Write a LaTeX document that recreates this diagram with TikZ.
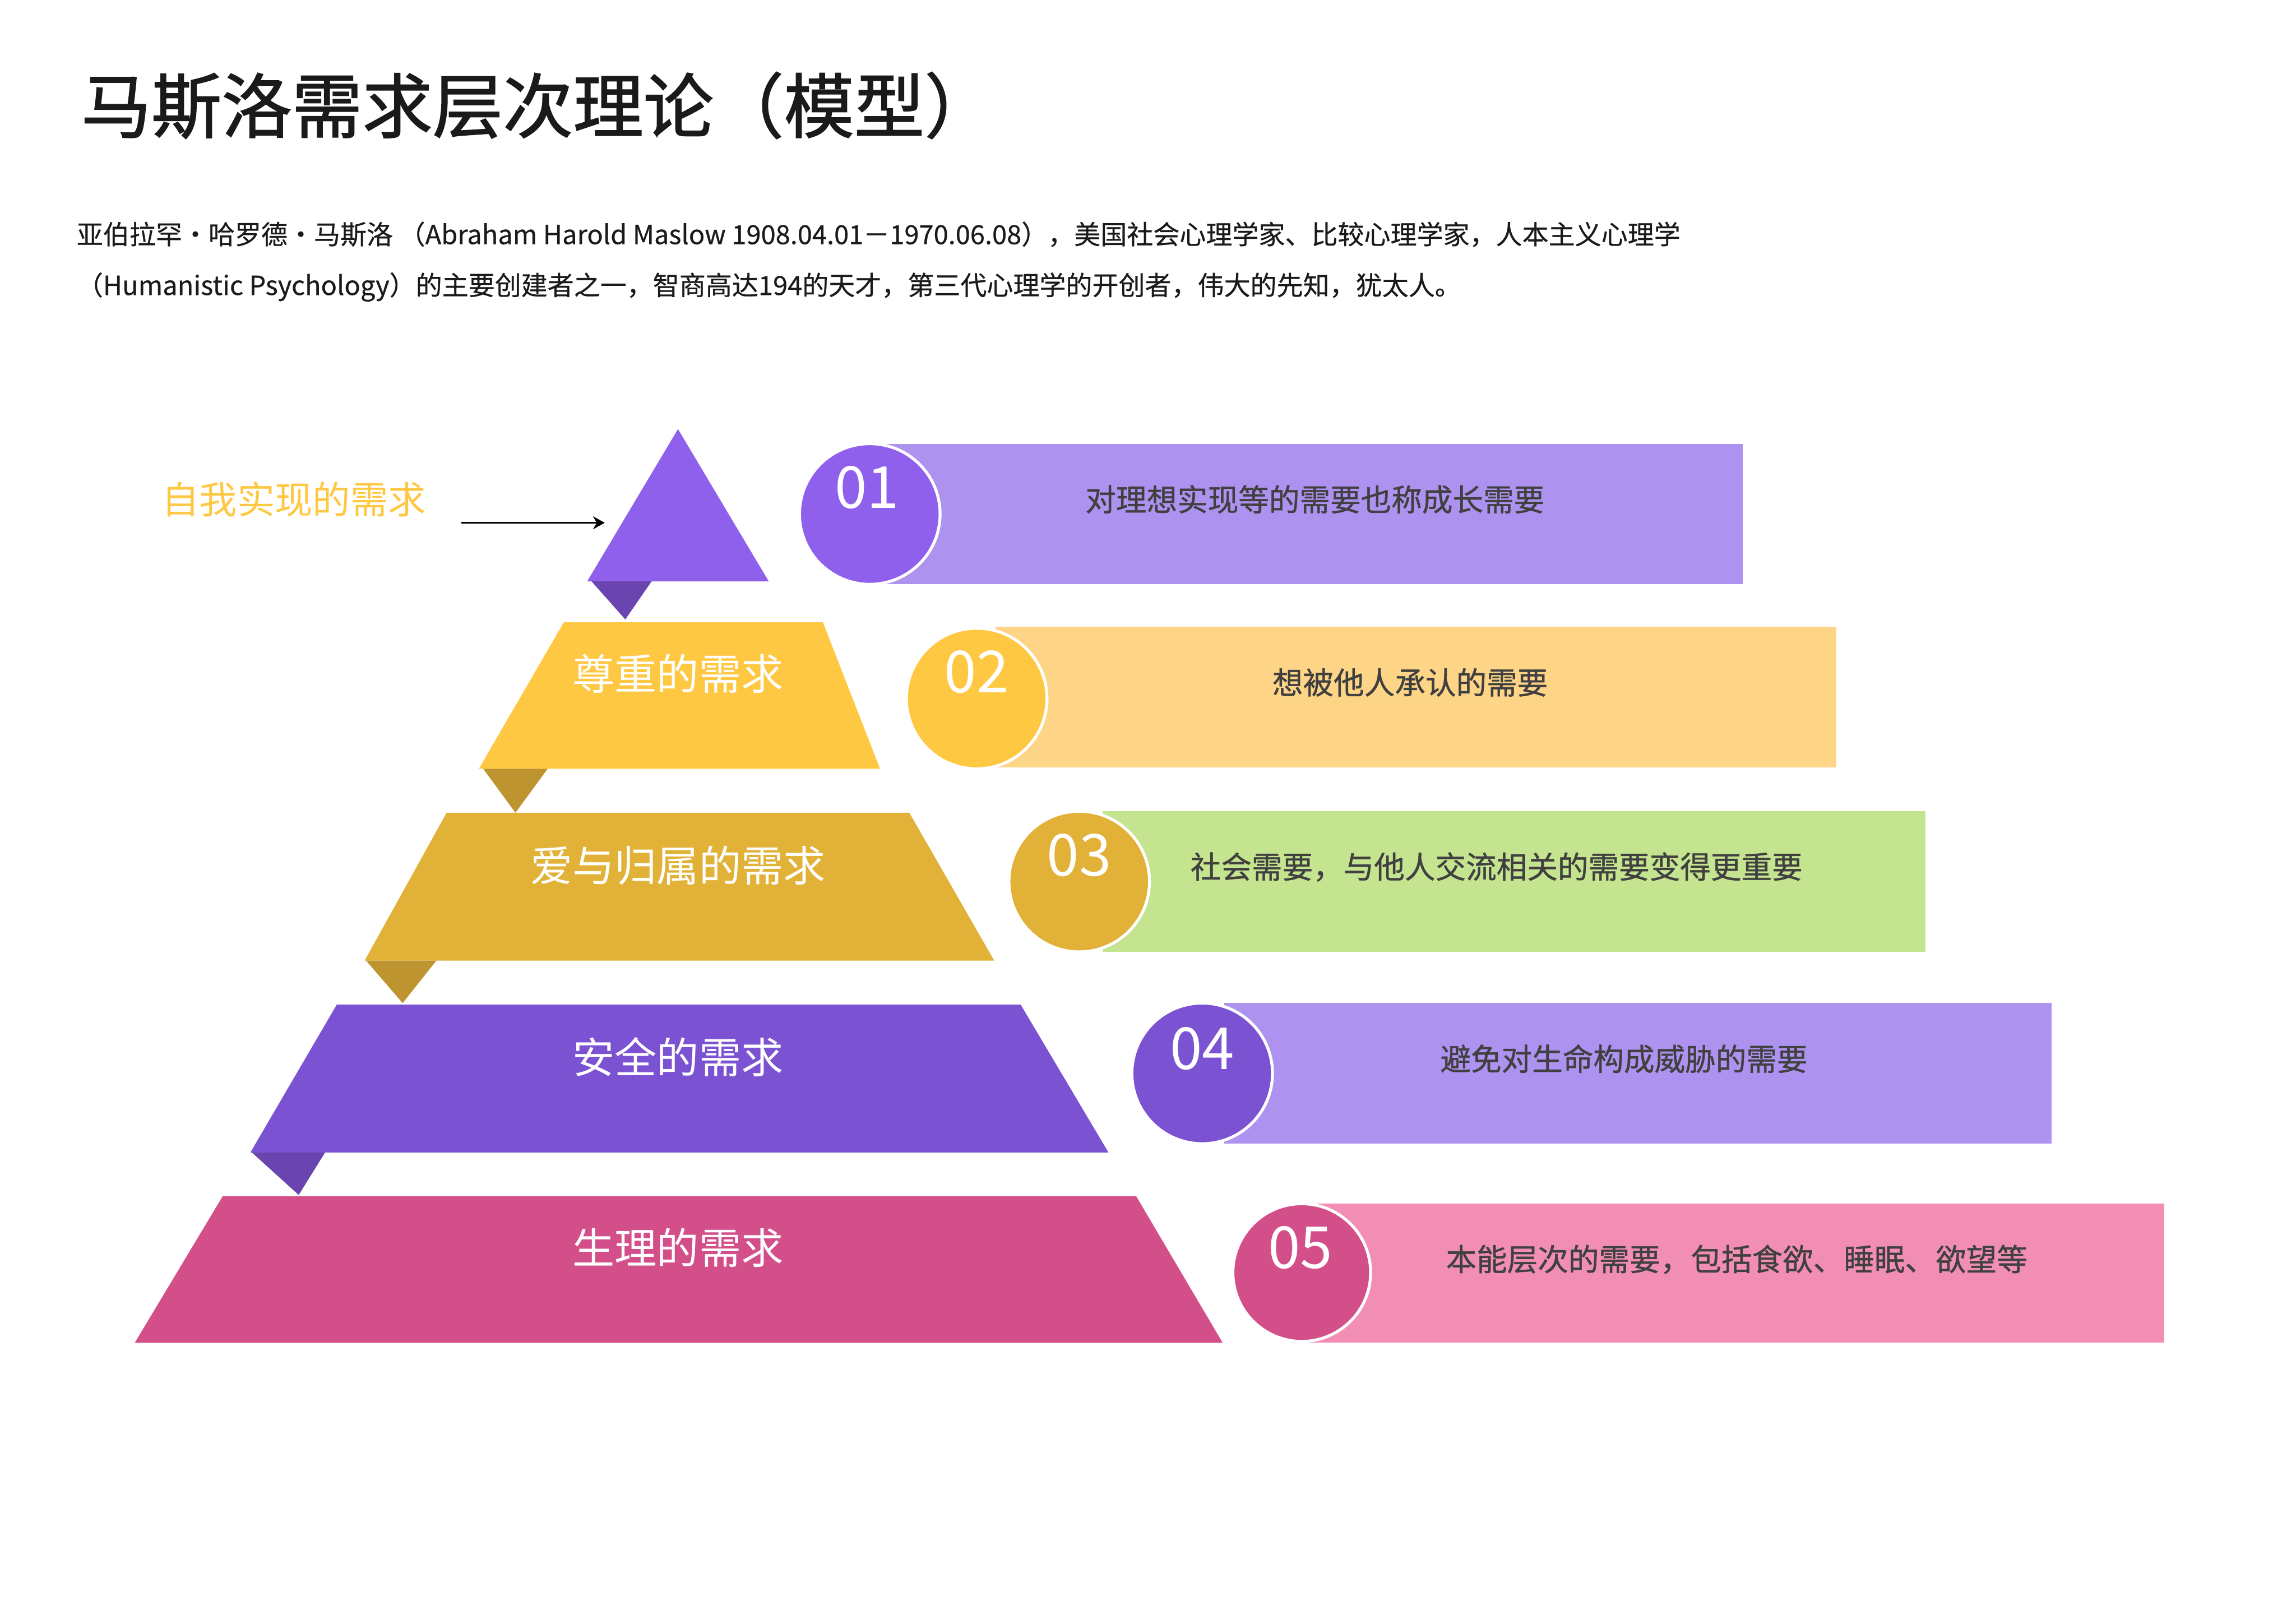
\documentclass[tikz,border=0pt]{standalone}
\usepackage{fontspec}
\setmainfont{Noto Sans CJK SC}
\newfontfamily\titlefont[FakeBold=1.4]{Noto Sans CJK SC}
\newfontfamily\medfont[FakeBold=0.9]{Noto Sans CJK SC}
\newfontfamily\parafont[FakeBold=0.5]{Noto Sans CJK SC}
\usetikzlibrary{arrows.meta}
\definecolor{pTop}{HTML}{8F60EC}
\definecolor{pLight}{HTML}{AD92EF}
\definecolor{pDark}{HTML}{6A45B0}
\definecolor{yTier}{HTML}{FFC843}
\definecolor{yLight}{HTML}{FED587}
\definecolor{gTier}{HTML}{E1B237}
\definecolor{gFold}{HTML}{BD9430}
\definecolor{greenL}{HTML}{C5E48F}
\definecolor{pFour}{HTML}{7B53D2}
\definecolor{pinkT}{HTML}{D34F89}
\definecolor{pinkL}{HTML}{F28EB4}
\definecolor{txtgray}{HTML}{404040}
\definecolor{txtblack}{HTML}{1A1A1A}
\tikzset{
  tiertext/.style={text=white, inner sep=0, font=\fontsize{14.4pt}{16pt}\selectfont},
  bantext/.style={text=txtgray, inner sep=0, font=\medfont\fontsize{10.45pt}{12pt}\selectfont},
  numtext/.style={text=white, inner sep=0, font=\fontsize{19.8pt}{22pt}\selectfont},
  paratext/.style={text=txtblack, inner sep=0, anchor=west, font=\parafont\fontsize{9pt}{11pt}\selectfont},
  ring/.style={draw=white, line width=1pt},
}
\begin{document}
\begin{tikzpicture}[x=0.5pt,y=-0.5pt]
\useasboundingbox[fill=white] (0,0) rectangle (1568,1108.7);

% title and paragraph
\node[anchor=west, inner sep=0, text=txtblack, font=\titlefont\fontsize{24pt}{27pt}\selectfont] (title) at (55,72) {马斯洛需求层次理论（模型）};
\node[paratext] (para1) at (52,160) {亚伯拉罕・哈罗德・马斯洛 （Abraham Harold Maslow 1908.04.01－1970.06.08），美国社会心理学家、比较心理学家，人本主义心理学};
\node[paratext] (para2) at (52,196) {（Humanistic Psychology）的主要创建者之一，智商高达194的天才，第三代心理学的开创者，伟大的先知，犹太人。};

% left label and arrow
\node[anchor=west, inner sep=0, text=yTier, font=\fontsize{12.9pt}{14pt}\selectfont] (selflabel) at (110,341) {自我实现的需求};
\coordinate (arrS) at (315,357);
\coordinate (arrE) at (413,357);
\draw[line width=0.6pt, -{Stealth[length=4pt,width=4.4pt]}] (arrS) -- (arrE);

% banners (behind circles)
\fill[pLight] (600,303) rectangle (1190,399);
\fill[yLight] (680,428) rectangle (1254,524);
\fill[greenL] (753,554) rectangle (1315,650);
\fill[pLight] (836,685) rectangle (1401,781);
\fill[pinkL] (883,822) rectangle (1478,917);

% circles
\fill[pTop] (594,351) circle (48);
\draw[ring] (594,351) circle (48);
\fill[yTier] (667,477) circle (48);
\draw[ring] (667,477) circle (48);
\fill[gTier] (737,602) circle (48);
\draw[ring] (737,602) circle (48);
\fill[pFour] (821,733) circle (48);
\draw[ring] (821,733) circle (48);
\fill[pinkT] (889,869) circle (47);
\draw[ring] (889,869) circle (47);

\node[numtext] (n1) at (592,333) {01};
\node[numtext] (n2) at (667,459) {02};
\node[numtext] (n3) at (737,584) {03};
\node[numtext] (n4) at (821,716) {04};
\node[numtext] (n5) at (888,852) {05};

\node[bantext] (b1) at (898,341) {对理想实现等的需要也称成长需要};
\node[bantext] (b2) at (963,466) {想被他人承认的需要};
\node[bantext] (b3) at (1022,592) {社会需要，与他人交流相关的需要变得更重要};
\node[bantext] (b4) at (1109,723) {避免对生命构成威胁的需要};
\node[bantext] (b5) at (1186,860) {本能层次的需要，包括食欲、睡眠、欲望等};

% pyramid
\fill[pTop] (463,293) -- (525,397) -- (401,397) -- cycle;
\fill[pDark] (404,397) -- (445,397) -- (427,423) -- cycle;

\fill[yTier] (385,425) -- (562,425) -- (601,525) -- (327,525) -- cycle;
\fill[gFold] (330,525) -- (374,525) -- (352,555) -- cycle;

\fill[gTier] (305,555) -- (621,555) -- (679,656) -- (249,656) -- cycle;
\fill[gFold] (250,656) -- (298,656) -- (275,685) -- cycle;

\fill[pFour] (230,686) -- (697,686) -- (757,787) -- (171,787) -- cycle;
\fill[pDark] (172,787) -- (222,787) -- (204,816) -- cycle;

\fill[pinkT] (152,817) -- (776,817) -- (835,917) -- (92,917) -- cycle;

\node[tiertext] (t2) at (463,460) {尊重的需求};
\node[tiertext] (t3) at (463,591) {爱与归属的需求};
\node[tiertext] (t4) at (463,722) {安全的需求};
\node[tiertext] (t5) at (463,852) {生理的需求};
\end{tikzpicture}
\end{document}
